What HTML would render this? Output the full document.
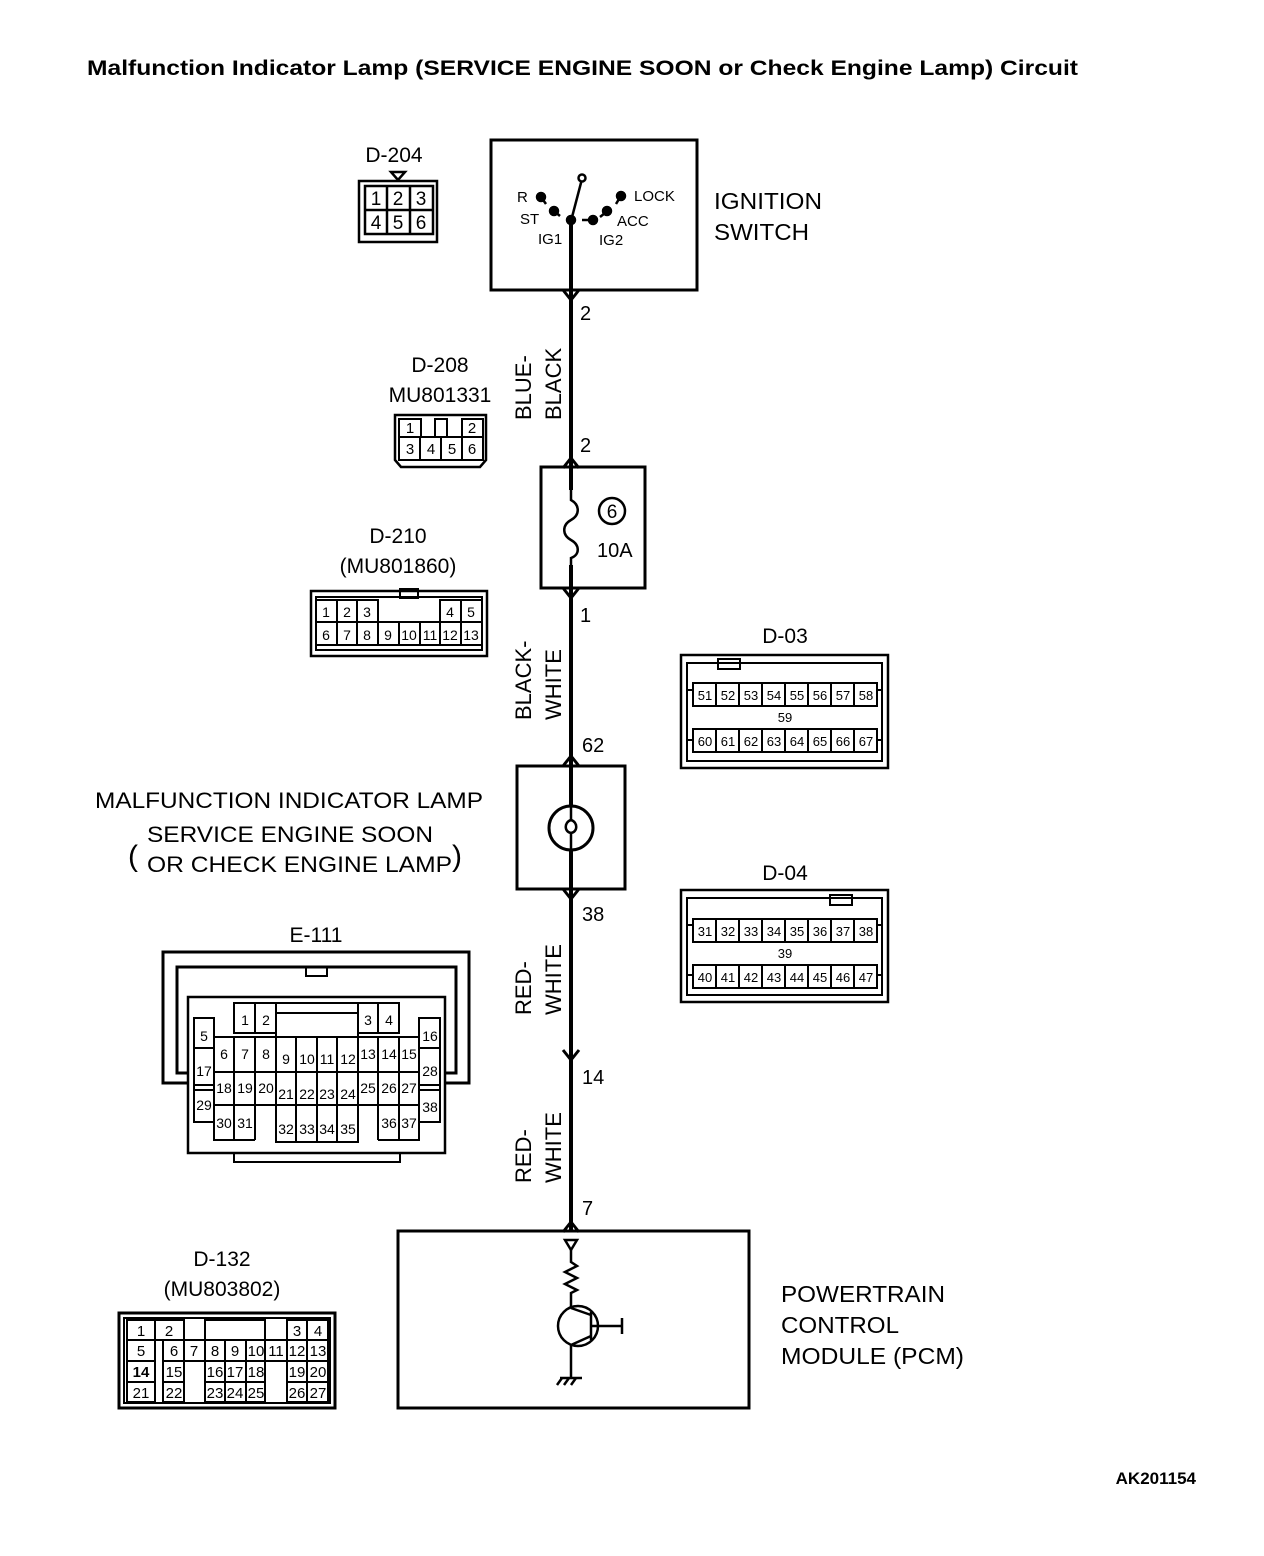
<!DOCTYPE html>
<html><head><meta charset="utf-8"><style>html,body{margin:0;padding:0;background:#fff}svg{display:block}text{font-family:"Liberation Sans",sans-serif;fill:#000}</style></head><body>
<svg width="1264" height="1556" viewBox="0 0 1264 1556" xmlns="http://www.w3.org/2000/svg">
<text x="87" y="75" font-size="21" font-weight="bold" textLength="991" lengthAdjust="spacingAndGlyphs">Malfunction Indicator Lamp (SERVICE ENGINE SOON or Check Engine Lamp) Circuit</text>
<g fill="none" stroke="#000" stroke-width="3">
<rect x="491" y="140" width="206" height="150"/>
<rect x="541" y="467" width="104" height="121"/>
<rect x="517" y="766" width="108" height="123"/>
<rect x="398" y="1231" width="351" height="177"/>
<line x1="571" y1="221" x2="571" y2="1231" stroke-width="4"/>
<polyline points="563,290 571,300 579,290"/>
<polyline points="563,468 571,458 579,468"/>
<polyline points="563,588 571,598 579,588"/>
<polyline points="563,766 571,756 579,766"/>
<polyline points="563,889 571,899 579,889"/>
<polyline points="563,1050 571,1060 579,1050"/>
<polyline points="563,1232 571,1222 579,1232"/>
</g>
<g stroke="#000" stroke-width="2.5" fill="#000">
<line x1="571" y1="221" x2="582" y2="179"/>
<circle cx="582" cy="178" r="3.5" fill="#fff"/>
<circle cx="571" cy="220" r="4"/>
<circle cx="541" cy="197" r="4"/><line x1="541" y1="197" x2="546" y2="204"/>
<circle cx="554" cy="211" r="4"/><line x1="554" y1="211" x2="560" y2="216"/>
<circle cx="593" cy="220" r="4"/><line x1="582" y1="220" x2="590" y2="220"/>
<circle cx="607" cy="211" r="4"/><line x1="600" y1="217" x2="605" y2="213"/>
<circle cx="621" cy="196" r="4"/><line x1="619" y1="199" x2="616" y2="204"/>
</g>
<g font-size="15">
<text x="517" y="202">R</text><text x="634" y="201">LOCK</text>
<text x="520" y="224">ST</text><text x="617" y="226">ACC</text>
<text x="538" y="244">IG1</text><text x="599" y="245">IG2</text>
</g>
<text x="714" y="209" font-size="23" textLength="108" lengthAdjust="spacingAndGlyphs">IGNITION</text>
<text x="714" y="240" font-size="23" textLength="95" lengthAdjust="spacingAndGlyphs">SWITCH</text>
<rect x="560" y="490" width="22" height="75" fill="#fff"/>
<path d="M571,490 L571,500 C580,505 580,515 571,520 C562,525 562,535 571,540 C580,545 580,555 571,558 L571,565" fill="none" stroke="#000" stroke-width="2.5"/>
<circle cx="612" cy="511" r="13" fill="none" stroke="#000" stroke-width="2.5"/>
<text x="612" y="518" font-size="19" text-anchor="middle">6</text>
<text x="597" y="557" font-size="20">10A</text>
<circle cx="571" cy="828" r="22" fill="#fff" stroke="#000" stroke-width="3"/>
<path d="M571,806 L571,820 C564,822 564,832 571,833 C578,832 578,822 571,820 M571,833 L571,850" fill="none" stroke="#000" stroke-width="2.5"/>
<g font-size="20">
<text x="580" y="320">2</text><text x="580" y="452">2</text><text x="580" y="622">1</text>
<text x="582" y="752">62</text><text x="582" y="921">38</text><text x="582" y="1084">14</text><text x="582" y="1215">7</text>
</g>
<g font-size="22">
<text transform="translate(531,420) rotate(-90)">BLUE-</text>
<text transform="translate(561,420) rotate(-90)">BLACK</text>
<text transform="translate(531,720) rotate(-90)">BLACK-</text>
<text transform="translate(561,720) rotate(-90)">WHITE</text>
<text transform="translate(531,1015) rotate(-90)">RED-</text>
<text transform="translate(561,1015) rotate(-90)">WHITE</text>
<text transform="translate(531,1183) rotate(-90)">RED-</text>
<text transform="translate(561,1183) rotate(-90)">WHITE</text>
</g>
<g font-size="22">
<text x="95" y="808" textLength="388" lengthAdjust="spacingAndGlyphs">MALFUNCTION INDICATOR LAMP</text>
<text x="147" y="842" textLength="286" lengthAdjust="spacingAndGlyphs">SERVICE ENGINE SOON</text>
<text x="147" y="872" textLength="305" lengthAdjust="spacingAndGlyphs">OR CHECK ENGINE LAMP</text>
<text x="128" y="866" font-size="30">(</text><text x="452" y="866" font-size="30">)</text>
</g>
<g fill="none" stroke="#000" stroke-width="2.5">
<polygon points="565,1240 577,1240 571,1250"/>
<polyline points="571,1250 571,1262 577,1266 565,1272 577,1278 565,1284 577,1290 571,1293 571,1308"/>
<circle cx="578" cy="1326" r="20"/>
<line x1="571" y1="1308" x2="591" y2="1315"/>
<line x1="591" y1="1312" x2="591" y2="1340"/>
<line x1="591" y1="1326" x2="622" y2="1326"/><line x1="622" y1="1318" x2="622" y2="1334"/>
<line x1="591" y1="1336" x2="571" y2="1345"/>
<line x1="571" y1="1345" x2="571" y2="1378"/>
<line x1="560" y1="1378" x2="582" y2="1378"/>
<line x1="562" y1="1378" x2="557" y2="1385"/><line x1="569" y1="1378" x2="564" y2="1385"/><line x1="576" y1="1378" x2="571" y2="1385"/>
</g>
<g font-size="23">
<text x="781" y="1302" textLength="164" lengthAdjust="spacingAndGlyphs">POWERTRAIN</text><text x="781" y="1333" textLength="118" lengthAdjust="spacingAndGlyphs">CONTROL</text><text x="781" y="1364" textLength="183" lengthAdjust="spacingAndGlyphs">MODULE (PCM)</text>
</g>
<g font-size="21" text-anchor="middle">
<text x="394" y="162">D-204</text>
<text x="440" y="372">D-208</text><text x="440" y="402">MU801331</text>
<text x="398" y="543">D-210</text><text x="398" y="573">(MU801860)</text>
<text x="785" y="643">D-03</text><text x="785" y="880">D-04</text>
<text x="316" y="942">E-111</text>
<text x="222" y="1266">D-132</text><text x="222" y="1296">(MU803802)</text>
</g>
<text x="1196" y="1484" font-size="17" font-weight="bold" text-anchor="end">AK201154</text>
<g fill="none" stroke="#000" stroke-width="2.5">
<rect x="359" y="181" width="78" height="61"/>
<rect x="365" y="186" width="68" height="48"/>
<line x1="387" y1="186" x2="387" y2="234"/><line x1="410" y1="186" x2="410" y2="234"/><line x1="365" y1="210" x2="433" y2="210"/>
<polygon points="391,172 405,172 398,180"/>
</g>
<g font-size="19" text-anchor="middle"><text x="376" y="205">1</text><text x="398" y="205">2</text><text x="421" y="205">3</text><text x="376" y="229">4</text><text x="398" y="229">5</text><text x="421" y="229">6</text></g>
<g fill="none" stroke="#000" stroke-width="2">
<path d="M395,415 H486 V460 L480,467 H401 L395,460 Z" stroke-width="2.5"/>
<rect x="399" y="419" width="22" height="18"/><rect x="435" y="419" width="12" height="18"/><rect x="462" y="419" width="21" height="18"/>
<rect x="399" y="437" width="84" height="23"/>
<line x1="420" y1="437" x2="420" y2="460"/><line x1="441" y1="437" x2="441" y2="460"/><line x1="462" y1="437" x2="462" y2="460"/>
</g>
<g font-size="15" text-anchor="middle"><text x="410" y="433">1</text><text x="472" y="433">2</text><text x="410" y="454">3</text><text x="431" y="454">4</text><text x="452" y="454">5</text><text x="472" y="454">6</text></g>
<g fill="none" stroke="#000" stroke-width="2">
<rect x="311" y="591" width="176" height="65" stroke-width="2.5"/>
<rect x="316" y="597" width="166" height="53"/>
<rect x="400" y="589" width="18" height="9"/>
<path d="M316,600 H378 V622 M440,622 V600 H482 M316,622 H482 M316,645 H482"/>
<line x1="337" y1="600" x2="337" y2="645"/><line x1="357" y1="600" x2="357" y2="645"/><line x1="378" y1="600" x2="378" y2="645"/>
<line x1="399" y1="622" x2="399" y2="645"/><line x1="420" y1="622" x2="420" y2="645"/><line x1="440" y1="600" x2="440" y2="645"/><line x1="461" y1="600" x2="461" y2="645"/>
</g>
<g font-size="14" text-anchor="middle">
<text x="326" y="617">1</text><text x="347" y="617">2</text><text x="367" y="617">3</text><text x="450" y="617">4</text><text x="471" y="617">5</text>
<text x="326" y="640">6</text><text x="347" y="640">7</text><text x="367" y="640">8</text><text x="388" y="640">9</text><text x="409" y="640">10</text><text x="430" y="640">11</text><text x="450" y="640">12</text><text x="471" y="640">13</text>
</g>
<g fill="none" stroke="#000" stroke-width="2">
<rect x="681" y="655" width="207" height="113" stroke-width="2.5"/>
<path d="M687,663 H882 V761 H687 Z M687,690 H693 M687,740 H693 M876,690 H882 M876,740 H882"/>
<rect x="718" y="659" width="22" height="10"/>
<rect x="693" y="683" width="184" height="23"/><rect x="693" y="729" width="184" height="23"/>
<path d="M716,683 V706 M739,683 V706 M762,683 V706 M785,683 V706 M808,683 V706 M831,683 V706 M854,683 V706 M716,729 V752 M739,729 V752 M762,729 V752 M785,729 V752 M808,729 V752 M831,729 V752 M854,729 V752"/>
</g>
<g font-size="13" text-anchor="middle">
<text x="705" y="700">51</text><text x="728" y="700">52</text><text x="751" y="700">53</text><text x="774" y="700">54</text><text x="797" y="700">55</text><text x="820" y="700">56</text><text x="843" y="700">57</text><text x="866" y="700">58</text>
<text x="785" y="722">59</text>
<text x="705" y="746">60</text><text x="728" y="746">61</text><text x="751" y="746">62</text><text x="774" y="746">63</text><text x="797" y="746">64</text><text x="820" y="746">65</text><text x="843" y="746">66</text><text x="866" y="746">67</text>
</g>
<g fill="none" stroke="#000" stroke-width="2">
<rect x="681" y="890" width="207" height="112" stroke-width="2.5"/>
<path d="M687,898 H882 V995 H687 Z M687,925 H693 M687,975 H693 M876,925 H882 M876,975 H882"/>
<rect x="830" y="895" width="22" height="10"/>
<rect x="693" y="919" width="184" height="23"/><rect x="693" y="965" width="184" height="23"/>
<path d="M716,919 V942 M739,919 V942 M762,919 V942 M785,919 V942 M808,919 V942 M831,919 V942 M854,919 V942 M716,965 V988 M739,965 V988 M762,965 V988 M785,965 V988 M808,965 V988 M831,965 V988 M854,965 V988"/>
</g>
<g font-size="13" text-anchor="middle">
<text x="705" y="936">31</text><text x="728" y="936">32</text><text x="751" y="936">33</text><text x="774" y="936">34</text><text x="797" y="936">35</text><text x="820" y="936">36</text><text x="843" y="936">37</text><text x="866" y="936">38</text>
<text x="785" y="958">39</text>
<text x="705" y="982">40</text><text x="728" y="982">41</text><text x="751" y="982">42</text><text x="774" y="982">43</text><text x="797" y="982">44</text><text x="820" y="982">45</text><text x="843" y="982">46</text><text x="866" y="982">47</text>
</g>
<g fill="none" stroke="#000" stroke-width="2">
<path d="M188,1083 H163 V952 H469 V1083 H445" stroke-width="3"/>
<path d="M188,1073 H177 V967 H456 V1073 H445" stroke-width="3"/>
<rect x="306" y="967" width="21" height="9"/>
<path d="M188,1083 V997 H445 V1153 H188 Z" stroke-width="2.5"/>
<rect x="234" y="1153" width="166" height="9"/>
<rect x="234" y="1003" width="42" height="30"/><line x1="255" y1="1003" x2="255" y2="1033"/>
<rect x="276" y="1003" width="82" height="34"/><line x1="276" y1="1013" x2="358" y2="1013"/>
<rect x="358" y="1003" width="41" height="30"/><line x1="378" y1="1003" x2="378" y2="1033"/>
<rect x="194" y="1018" width="20" height="104"/><rect x="419" y="1018" width="21" height="104"/>
<path d="M194,1048 H214 M194,1085 H214 M194,1090 H214 M419,1048 H440 M419,1085 H440 M419,1090 H440"/>
<rect x="214" y="1037" width="205" height="68"/>
<line x1="214" y1="1072" x2="419" y2="1072"/><line x1="214" y1="1105" x2="419" y2="1105"/>
<path d="M234,1037 V1140 M255,1037 V1140 M276,1037 V1105 M296,1037 V1142 M317,1037 V1142 M337,1037 V1142 M358,1037 V1105 M378,1037 V1140 M399,1037 V1140"/>
<path d="M214,1105 V1140 H255 M276,1105 V1142 H358 V1105 M378,1140 H419 V1105"/>
</g>
<g font-size="14" text-anchor="middle">
<text x="245" y="1025">1</text><text x="266" y="1025">2</text><text x="368" y="1025">3</text><text x="389" y="1025">4</text>
<text x="204" y="1041">5</text><text x="430" y="1041">16</text>
<text x="224" y="1059">6</text><text x="245" y="1059">7</text><text x="266" y="1059">8</text><text x="286" y="1064">9</text><text x="307" y="1064">10</text><text x="327" y="1064">11</text><text x="348" y="1064">12</text><text x="368" y="1059">13</text><text x="389" y="1059">14</text><text x="409" y="1059">15</text>
<text x="204" y="1076">17</text><text x="430" y="1076">28</text>
<text x="224" y="1093">18</text><text x="245" y="1093">19</text><text x="266" y="1093">20</text><text x="286" y="1099">21</text><text x="307" y="1099">22</text><text x="327" y="1099">23</text><text x="348" y="1099">24</text><text x="368" y="1093">25</text><text x="389" y="1093">26</text><text x="409" y="1093">27</text>
<text x="204" y="1110">29</text><text x="430" y="1112">38</text>
<text x="224" y="1128">30</text><text x="245" y="1128">31</text><text x="286" y="1134">32</text><text x="307" y="1134">33</text><text x="327" y="1134">34</text><text x="348" y="1134">35</text><text x="389" y="1128">36</text><text x="409" y="1128">37</text>
</g>
<g fill="none" stroke="#000" stroke-width="2">
<rect x="119" y="1313" width="216" height="95" stroke-width="3"/>
<rect x="124" y="1318" width="206" height="85"/>
<rect x="127" y="1320" width="57" height="20"/><line x1="155" y1="1320" x2="155" y2="1340"/>
<rect x="205" y="1320" width="60" height="20"/>
<rect x="287" y="1320" width="41" height="82"/><line x1="307" y1="1320" x2="307" y2="1402"/>
<rect x="127" y="1340" width="28" height="62"/>
<rect x="163" y="1340" width="124" height="21"/>
<rect x="163" y="1361" width="21" height="41"/>
<rect x="205" y="1361" width="60" height="41"/>
<path d="M184,1340 V1361 M205,1340 V1361 M225,1340 V1402 M246,1340 V1402 M265,1340 V1361 M127,1361 H155 M127,1382 H155 M163,1382 H184 M205,1382 H265 M287,1340 H328 M287,1361 H328 M287,1382 H328"/>
</g>
<g font-size="15" text-anchor="middle">
<text x="141" y="1336">1</text><text x="169" y="1336">2</text><text x="297" y="1336">3</text><text x="318" y="1336">4</text>
<text x="141" y="1356">5</text><text x="174" y="1356">6</text><text x="194" y="1356">7</text><text x="215" y="1356">8</text><text x="235" y="1356">9</text><text x="256" y="1356">10</text><text x="276" y="1356">11</text><text x="297" y="1356">12</text><text x="318" y="1356">13</text>
<text x="141" y="1377" font-weight="bold">14</text><text x="174" y="1377">15</text><text x="215" y="1377">16</text><text x="235" y="1377">17</text><text x="256" y="1377">18</text><text x="297" y="1377">19</text><text x="318" y="1377">20</text>
<text x="141" y="1398">21</text><text x="174" y="1398">22</text><text x="215" y="1398">23</text><text x="235" y="1398">24</text><text x="256" y="1398">25</text><text x="297" y="1398">26</text><text x="318" y="1398">27</text>
</g>
</svg>
</body></html>
